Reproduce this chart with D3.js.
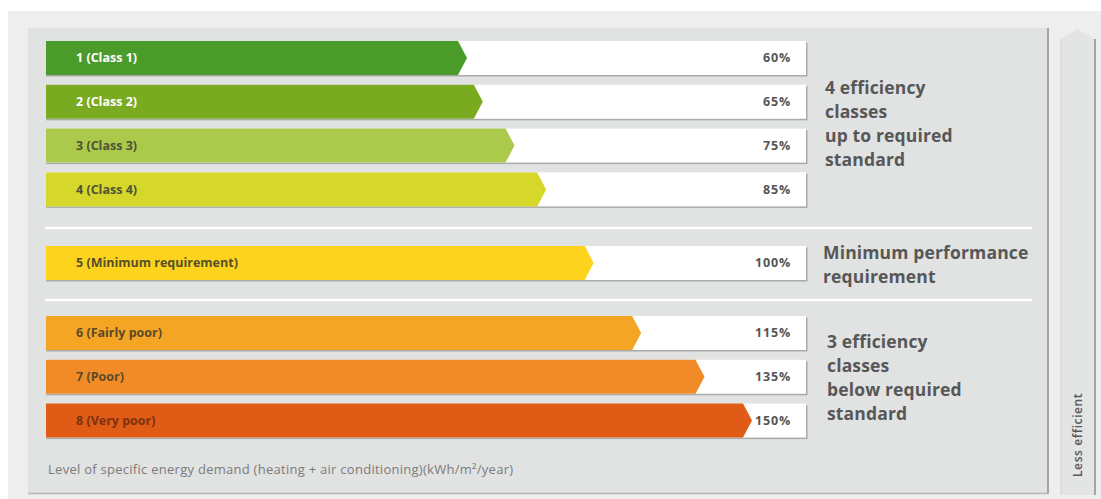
<!DOCTYPE html>
<html>
<head>
<meta charset="utf-8">
<script src="https://cdn.jsdelivr.net/npm/d3@7/dist/d3.min.js"></script>
<style>
  html, body { margin: 0; padding: 0; background: #ffffff; }
  svg { display: block; font-family: "Open Sans", "Lato", sans-serif; }
</style>
</head>
<body>
<svg id="chart" width="1101" height="499"></svg>
<script>
// Energy efficiency classes and their demand relative to the minimum requirement (%)
const classLabels = ["1 (Class 1)", "2 (Class 2)", "3 (Class 3)", "4 (Class 4)",
                     "5 (Minimum requirement)", "6 (Fairly poor)", "7 (Poor)", "8 (Very poor)"];
const demandPct   = [60, 65, 75, 85, 100, 115, 135, 150];
const classGroup  = [0, 0, 0, 0, 1, 2, 2, 2];
const classColors = ["#4b9b2a", "#7aaa20", "#abc94a", "#d5d82b", "#fdd31d", "#f5a524", "#f08b27", "#e05b15"];
const labelColors = ["#ffffff", "#ffffff", "#4f5235", "#4f5235", "#55502a", "#5a4a2a", "#5a4a2a", "#7a3210"];
const groupNotes  = [
  ["4 efficiency", "classes", "up to required", "standard"],
  ["Minimum performance", "requirement"],
  ["3 efficiency", "classes", "below required", "standard"]
];
const footnote  = "Level of specific energy demand (heating + air conditioning)(kWh/m²/year)";
const sideLabel = "Less efficient";

const svg = d3.select("#chart");

// Backgrounds: outer light panel, inner chart panel, side strip
svg.append("rect").attr("x", 8).attr("y", 11).attr("width", 1093).attr("height", 488).attr("fill", "#eeeeee");
svg.append("rect").attr("x", 28).attr("y", 28).attr("width", 1020).attr("height", 465).attr("fill", "#e1e2e2");
svg.append("line").attr("x1", 1048).attr("x2", 1048).attr("y1", 28).attr("y2", 494)
  .attr("stroke", "#a4a5a5").attr("stroke-width", 2);
svg.append("line").attr("x1", 28).attr("x2", 1049).attr("y1", 493.5).attr("y2", 493.5)
  .attr("stroke", "#b4b5b5").attr("stroke-width", 1.5);

// Side strip with pointed top
svg.append("path")
  .attr("d", "M1061,495 L1061,39 L1077,29 L1094,39 L1094,495 Z")
  .attr("fill", "#e3e4e4");
svg.append("line").attr("x1", 1095).attr("x2", 1095).attr("y1", 39).attr("y2", 495)
  .attr("stroke", "#a4a5a5").attr("stroke-width", 2);
svg.append("line").attr("x1", 1061).attr("x2", 1061).attr("y1", 39).attr("y2", 495)
  .attr("stroke", "#d2d3d3").attr("stroke-width", 1);
svg.append("text")
  .attr("transform", "translate(1082,477) rotate(-90)")
  .attr("font-size", 12).attr("font-weight", 600).attr("fill", "#585858")
  .attr("letter-spacing", 0.6)
  .text(sideLabel);

// Scales: demand value to the tip of each arrow; rows laid out per group
const barLeft = 46, trackRight = 806;
const x = d3.scaleLinear().domain([0, 150]).range([277, 752]);
const groupTop = [41, 246, 316];
const barH = 34;
const rowStep = 43.8;
const yIn = d3.scaleLinear().domain([0, 1]).range([0, rowStep]);
const idxInGroup = classGroup.map((g, i) => i - classGroup.indexOf(g));
const yTop = i => groupTop[classGroup[i]] + yIn(idxInGroup[i]);

// Separators between groups
[228, 300].forEach(yy => {
  svg.append("line").attr("x1", 45).attr("x2", 1032).attr("y1", yy).attr("y2", yy)
    .attr("stroke", "#ffffff").attr("stroke-width", 2.5);
});

const rows = svg.append("g").selectAll("g").data(demandPct).join("g")
  .attr("transform", (d, i) => `translate(0,${yTop(i)})`);

// Shadow behind the track
rows.append("rect")
  .attr("x", barLeft).attr("y", 1.5).attr("width", trackRight - barLeft + 1.5).attr("height", barH)
  .attr("fill", "#a9aaaa");
// White track
rows.append("rect")
  .attr("x", barLeft).attr("y", 0).attr("width", trackRight - barLeft).attr("height", barH)
  .attr("fill", "#ffffff");
// Coloured arrow bar
rows.append("path")
  .attr("d", d => {
    const tip = x(d), body = tip - 9;
    return `M${barLeft},0 L${body},0 L${tip},${barH / 2} L${body},${barH} L${barLeft},${barH} Z`;
  })
  .attr("fill", (d, i) => classColors[i]);

// Class labels
rows.append("text")
  .attr("x", 76).attr("y", barH / 2).attr("dy", "0.35em")
  .attr("font-size", 12.5).attr("font-weight", 700).attr("letter-spacing", 0)
  .attr("fill", (d, i) => labelColors[i])
  .text((d, i) => classLabels[i]);

// Percentage labels
rows.append("text")
  .attr("x", 791).attr("y", barH / 2).attr("dy", "0.35em")
  .attr("text-anchor", "end")
  .attr("font-size", 12.5).attr("font-weight", 700).attr("fill", "#555555")
  .attr("letter-spacing", 0.8)
  .text(d => d + "%");

// Group notes on the right
const noteX = [825, 823, 827];
const noteY0 = [88, 253, 342];
groupNotes.forEach((lines, g) => {
  const t = svg.append("text")
    .attr("x", noteX[g]).attr("y", noteY0[g])
    .attr("font-size", 17.5).attr("font-weight", 700).attr("fill", "#575757")
    .attr("letter-spacing", 0.15);
  lines.forEach((ln, k) => {
    t.append("tspan").attr("x", noteX[g]).attr("y", noteY0[g] + k * 24).attr("dy", "0.35em").text(ln);
  });
});

// Footnote
svg.append("text")
  .attr("x", 48).attr("y", 469).attr("dy", "0.35em")
  .attr("font-size", 13).attr("font-weight", 400).attr("fill", "#7b7b7b")
  .attr("letter-spacing", 0.27)
  .text(footnote);
</script>
</body>
</html>
